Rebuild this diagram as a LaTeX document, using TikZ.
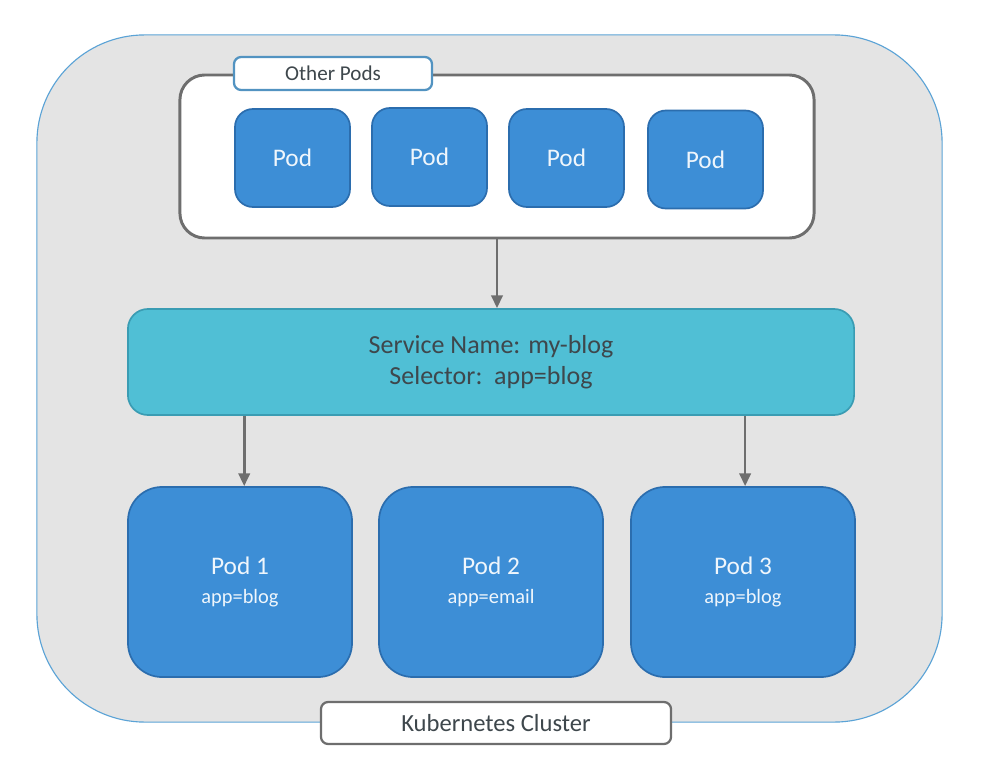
\documentclass[tikz,border=0pt]{standalone}
\usepackage{fontspec}
\setmainfont{Carlito}
\usetikzlibrary{positioning, arrows.meta}
\definecolor{clustergray}{HTML}{E4E4E4}
\definecolor{clusterblue}{HTML}{5BA3D6}
\definecolor{podblue}{HTML}{3D8ED6}
\definecolor{podedge}{HTML}{2B6DAE}
\definecolor{svcteal}{HTML}{50BFD5}
\definecolor{svcedge}{HTML}{3A9CB3}
\definecolor{framegray}{HTML}{6E6E6E}
\definecolor{textgray}{HTML}{3E474C}
\newcommand{\appfont}{\fontsize{14.5}{17}\selectfont}
\tikzset{
    smallpod/.style={ % pods in the upper frame
    draw=podedge, fill=podblue, line width=1.2pt,
    rounded corners=0.45cm, minimum width=2.875cm, minimum height=2.45cm,
    text=white!92!podblue, font=\fontsize{18}{20}\selectfont},
    bigpod/.style={ % pods behind the service
    smallpod, rounded corners=0.85cm,
    minimum width=5.6cm, minimum height=4.75cm, align=center},
    tagbox/.style={ % white label boxes
    draw=framegray, fill=white, line width=1.6pt, rounded corners=0.18cm,
    text=textgray, inner sep=0pt},
    link/.style={ % connectors
    draw=framegray, line width=1.9pt,
    -{Triangle[length=9pt,width=8pt]}}
}
\begin{document}
\begin{tikzpicture}[x=0.025cm, y=-0.025cm]
    \useasboundingbox (0,0) rectangle (986,782);

    % Cluster
    \node[draw=clusterblue, fill=clustergray, line width=0.8pt, rounded corners=2.7cm,
        minimum width=22.625cm, minimum height=17.175cm] (cluster) at (489.5,378.5) {};

    % Other pods
    \node[draw=framegray, fill=white, line width=2.1pt, rounded corners=0.62cm,
        minimum width=15.85cm, minimum height=4.075cm] (frame) at (497,156.5) {};
    \node[tagbox, draw=clusterblue!90!black, minimum width=4.95cm, minimum height=0.825cm,
        font=\fontsize{15}{18}\selectfont] (othertag) at (333,73.5) {Other Pods};
    \node[smallpod] (opod1) at (292.5,158) {Pod};
    \node[smallpod] (opod2) at (429.5,157) {Pod};
    \node[smallpod] (opod3) at (566.5,158) {Pod};
    \node[smallpod] (opod4) at (705.5,159.5) {Pod};

    % Service
    \node[draw=svcedge, fill=svcteal, line width=1.2pt, rounded corners=0.5cm,
        minimum width=18.15cm, minimum height=2.65cm, align=center, text=textgray,
        font=\fontsize{18.5}{22}\selectfont] (svc) at (491,362)
        {Service Name: my-blog\\Selector:\ \ app=blog};

    % Pods
    \node[bigpod] (pod1) at (240,582) {Pod 1\\[1pt]{\appfont app=blog}};
    \node[bigpod] (pod2) at (491,582) {Pod 2\\[1pt]{\appfont app=email}};
    \node[bigpod] (pod3) at (743,582) {Pod 3\\[1pt]{\appfont app=blog}};

    \node[tagbox, minimum width=8.75cm, minimum height=1.05cm,
        font=\fontsize{17.5}{20}\selectfont] (clustertag) at (496,723) {Kubernetes Cluster};

    % Connectors
    \draw[link] (frame.south) -- (frame.south |- svc.north);
    \draw[link] ([xshift=3pt]pod1.north |- svc.south) -- ([xshift=3pt]pod1.north);
    \draw[link] ([xshift=1.5pt]pod3.north |- svc.south) -- ([xshift=1.5pt]pod3.north);
\end{tikzpicture}
\end{document}
